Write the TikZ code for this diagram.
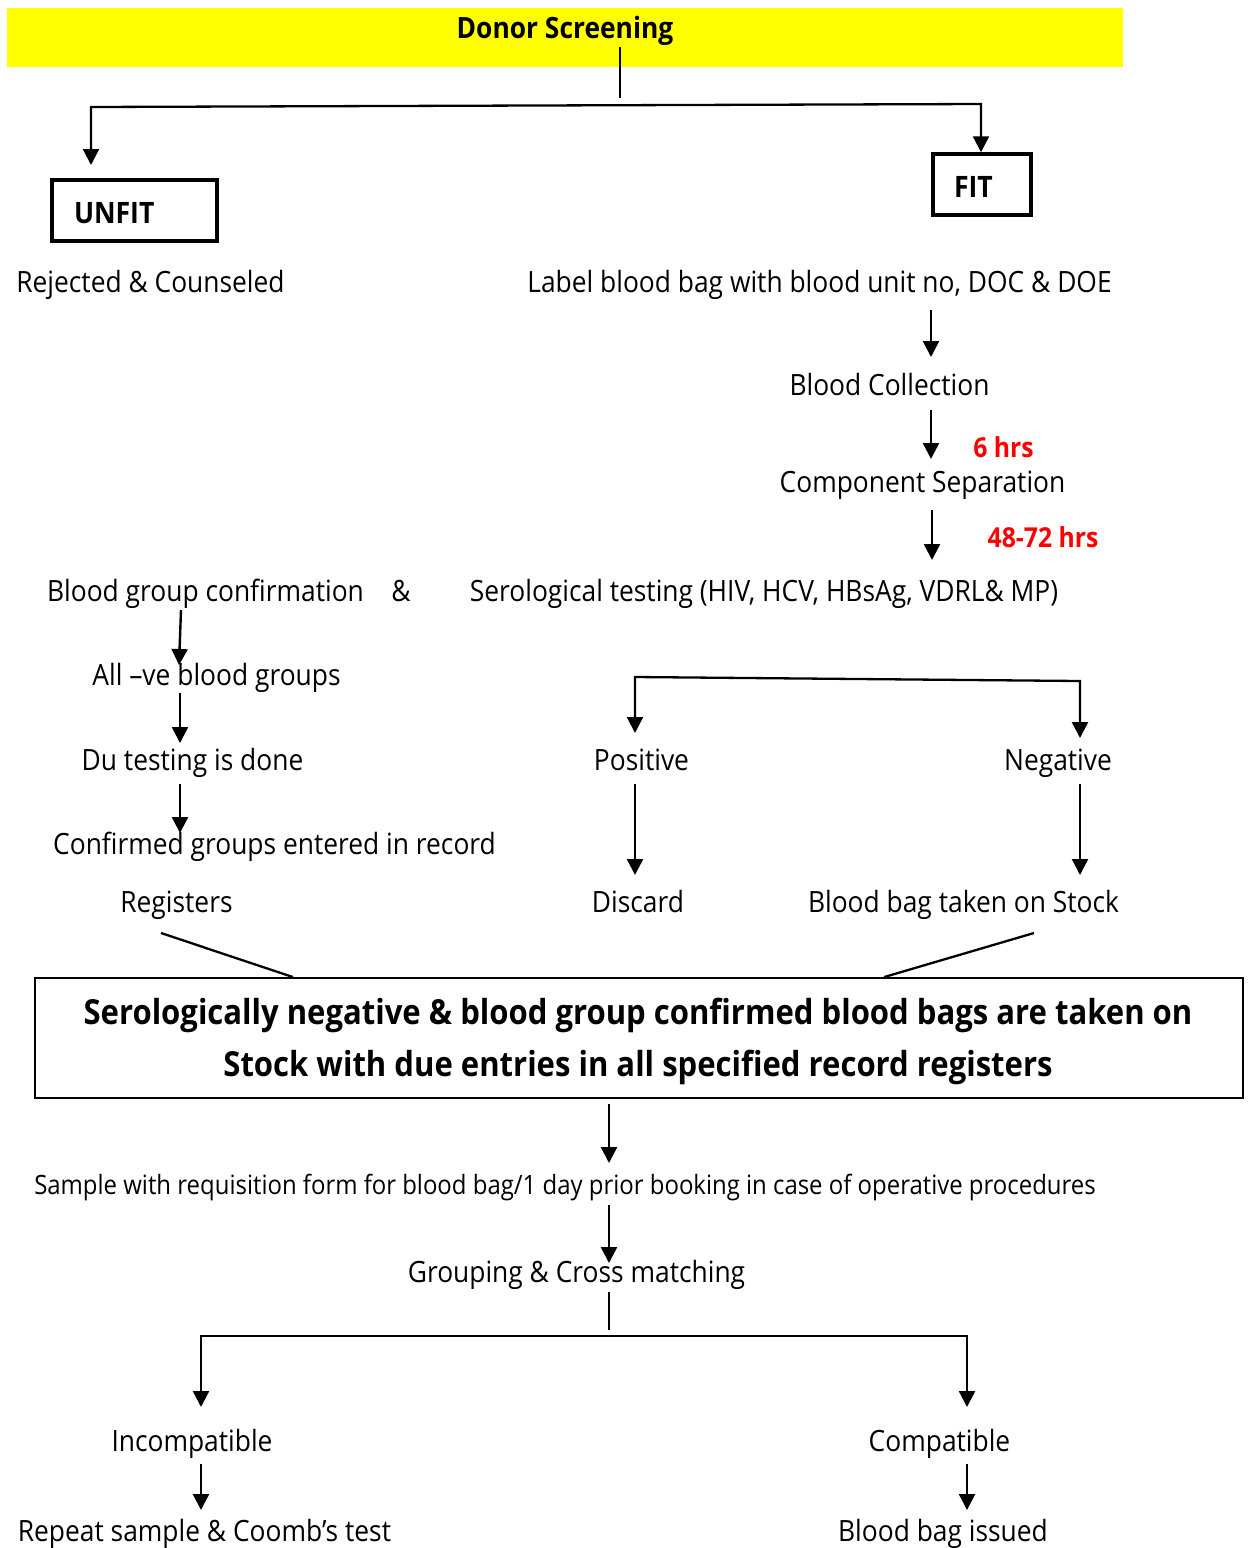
\documentclass[tikz,border=0pt]{standalone}
\usepackage{fontspec}
\setmainfont{Open Sans}[FakeStretch=0.9]
\usetikzlibrary{arrows.meta}
\definecolor{hlyellow}{RGB}{255,255,0}
\definecolor{hrsred}{RGB}{255,0,0}
\tikzset{
  txt/.style={inner sep=0pt, text height=20.9pt, text depth=0pt, font=\fontsize{29.3}{34}\selectfont},
  smalltxt/.style={inner sep=0pt, text height=19pt, text depth=0pt, font=\fontsize{26.6}{30}\selectfont},
  redtxt/.style={inner sep=0pt, text height=19.6pt, text depth=0pt, text=hrsred, font=\fontsize{27.5}{30}\selectfont\bfseries},
  tip/.tip={Triangle[length=16pt,width=16pt]},
  arr/.style={line width=2.4pt, -tip},
  plain/.style={line width=2.3pt},
  hairline/.style={line width=1.2pt},
  thickbox/.style={draw, line width=3.5pt, inner ysep=0pt, align=left, minimum height=61pt,
     text height=26pt, text depth=0pt, font=\fontsize{29.5}{32}\selectfont\bfseries},
}
\begin{document}
\begin{tikzpicture}[x=1pt,y=-1pt]
\useasboundingbox (0,0) rectangle (1251,1548);
% header
\fill[hlyellow] (7,8) rectangle (1123,67);
\node[inner sep=0pt, text height=20.9pt, text depth=0pt, font=\fontsize{29.3}{32}\selectfont\bfseries] (donor) at (565,28.5) {Donor Screening};
\coordinate (bl) at (91,107);
\coordinate (br) at (981,104);
\draw[hairline] (620,47) coordinate (dtop) -- (620,98) coordinate (dbot);
% UNFIT / FIT
\node[thickbox, inner xsep=22pt, text width=121pt] (unfit) at (134.5,210.5) {UNFIT};
\node[thickbox, inner xsep=21pt, text width=56pt] (fit) at (982,184.5) {FIT};
\draw[plain, tip-tip] (91,165) -- (bl) -- (br) -- (fit.north -| br);
% right column
\node[txt] (rej) at (150.5,282) {Rejected \& Counseled};
\node[txt] (label) at (819.5,282) {Label blood bag with blood unit no, DOC \& DOE};
\node[txt] (coll) at (889.5,385) {Blood Collection};
\node[txt] (comp) at (922.5,482) {Component Separation};
\node[redtxt] (six) at (1003.5,448) {6 hrs};
\node[redtxt] (fortyeight) at (1043,538) {48-72 hrs};
\draw[arr] (931,310) -- (931,357);
\draw[arr] (931,410) -- (931,459);
\draw[arr] (932,510) -- (932,560);
% serology row
\node[txt] (bgc) at (205.5,591) {Blood group confirmation};
\node[txt] (amp) at (401,591) {\&};
\node[txt] (sero) at (764,591) {Serological testing (HIV, HCV, HBsAg, VDRL\& MP)};
% left column
\node[txt] (allve) at (216.5,675) {All \textendash ve blood groups};
\node[txt] (du) at (192.5,760) {Du testing is done};
\node[txt] (conf) at (274.5,844) {Confirmed groups entered in record};
\node[txt] (reg) at (176.5,902) {Registers};
\draw[arr] (181,610) -- (179,665);
\draw[arr] (180,693) -- (180,743);
\draw[arr] (180,784) -- (180,833);
% positive / negative
\node[txt] (pos) at (641.5,760) {Positive};
\node[txt] (neg) at (1058,760) {Negative};
\node[txt] (disc) at (638,902) {Discard};
\node[txt] (stock) at (963.5,902) {Blood bag taken on Stock};
\draw[plain, tip-tip] (635,733) -- (635,677) -- (1080,681) -- (1080,738);
\draw[arr] (635,784) -- (635,875);
\draw[arr] (1080,784) -- (1080,875);
% big box
\node[draw, line width=1.8pt, minimum width=1208pt, minimum height=120pt, inner sep=0pt] (stockbox) at (639,1038) {};
\node[inner sep=0pt, align=center, font=\fontsize{34.5}{52}\selectfont\bfseries] (stocktext) at (638,1041)
  {Serologically negative \& blood group confirmed blood bags are taken on\\
   Stock with due entries in all specified record registers};
\draw[plain] (161,933) -- (stockbox.north -| 293,0);
\draw[plain] (1034,933) -- (stockbox.north -| 884,0);
\draw[arr] (609,1104) -- (609,1163);
\node[smalltxt] (sample) at (565,1185) {Sample with requisition form for blood bag/1 day prior booking in case of operative procedures};
\draw[arr] (609,1205) -- (609,1263);
\node[txt] (grouping) at (576.5,1272) {Grouping \& Cross matching};
\draw[hairline] (609,1292) -- (609,1330);
\draw[plain, tip-tip] (201,1407) -- (201,1336) -- (967,1336) -- (967,1407);
\node[txt] (incomp) at (192,1441) {Incompatible};
\node[txt] (compat) at (939.5,1441) {Compatible};
\draw[arr] (201,1464) -- (201,1510);
\draw[arr] (967,1464) -- (967,1510);
\node[txt] (repeat) at (204.5,1531) {Repeat sample \& Coomb’s test};
\node[txt] (issued) at (943,1531) {Blood bag issued};
\end{tikzpicture}
\end{document}
